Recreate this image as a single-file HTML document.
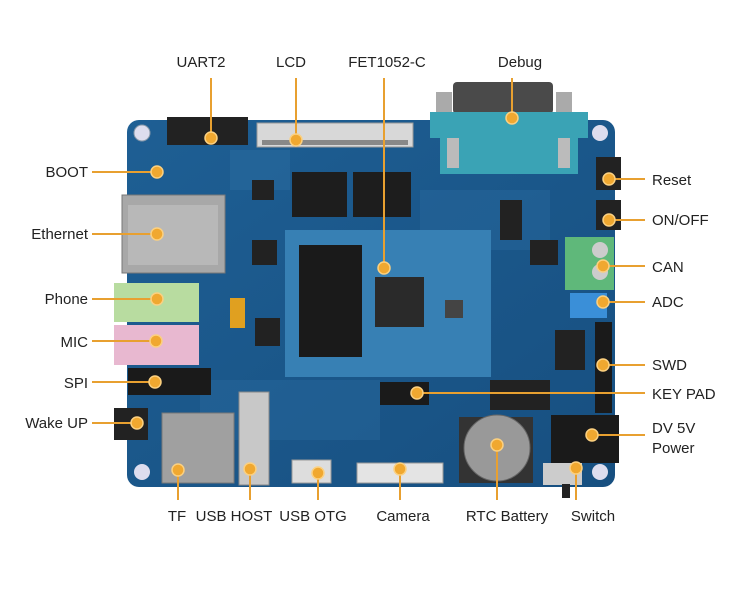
<!DOCTYPE html>
<html><head><style>
html,body{margin:0;padding:0;background:#fff;}
svg{display:block;}
text{font-family:"Liberation Sans",sans-serif;font-size:15px;fill:#222;}
</style></head><body>
<svg width="750" height="598" viewBox="0 0 750 598" xmlns="http://www.w3.org/2000/svg">
<defs>
<linearGradient id="bd" x1="0" y1="0" x2="1" y2="1"><stop offset="0" stop-color="#1e5f94"/><stop offset="1" stop-color="#174f80"/></linearGradient>
</defs>
<!-- board -->
<rect x="127" y="120" width="488" height="367" rx="12" fill="url(#bd)"/>
<circle cx="142" cy="133" r="8" fill="#dde" stroke="#89a" /><circle cx="600" cy="133" r="8" fill="#dde"/>
<circle cx="142" cy="472" r="8" fill="#dde"/><circle cx="600" cy="472" r="8" fill="#dde"/>
<!-- traces hint -->
<rect x="230" y="150" width="60" height="40" fill="#2a6ca0" opacity=".5"/>
<rect x="420" y="190" width="130" height="60" fill="#2a6ca0" opacity=".4"/>
<rect x="200" y="380" width="180" height="60" fill="#2a6ca0" opacity=".4"/>
<!-- UART header -->
<rect x="167" y="117" width="81" height="28" fill="#222"/>
<!-- LCD connector -->
<rect x="257" y="123" width="156" height="24" fill="#d8d8d8" stroke="#999"/>
<rect x="262" y="140" width="146" height="5" fill="#888"/>
<!-- DB9 -->
<rect x="453" y="82" width="100" height="32" rx="4" fill="#4a4a4a"/>
<rect x="436" y="92" width="16" height="22" fill="#aaa"/><rect x="556" y="92" width="16" height="22" fill="#aaa"/>
<rect x="430" y="112" width="158" height="26" fill="#3aa3b5"/>
<rect x="440" y="112" width="138" height="62" fill="#3aa3b5"/>
<rect x="447" y="138" width="12" height="30" fill="#bbb"/><rect x="558" y="138" width="12" height="30" fill="#bbb"/>
<!-- RAM chips -->
<rect x="292" y="172" width="55" height="45" fill="#1d1d1d"/><rect x="353" y="172" width="58" height="45" fill="#1d1d1d"/>
<rect x="252" y="180" width="22" height="20" fill="#222"/>
<rect x="500" y="200" width="22" height="40" fill="#222"/>
<rect x="530" y="240" width="28" height="25" fill="#222"/>
<!-- ethernet -->
<rect x="122" y="195" width="103" height="78" fill="#a8a8a8" stroke="#777"/>
<rect x="128" y="205" width="90" height="60" fill="#b8b8b8"/>
<!-- phone & mic -->
<rect x="114" y="283" width="85" height="39" fill="#b8dca0"/>
<rect x="114" y="325" width="85" height="40" fill="#e8b8d0"/>
<rect x="230" y="298" width="15" height="30" fill="#e0a020"/>
<rect x="252" y="240" width="25" height="25" fill="#222"/>
<rect x="255" y="318" width="25" height="28" fill="#222"/>
<!-- SPI -->
<rect x="128" y="368" width="83" height="27" fill="#1a1a1a"/>
<!-- module -->
<rect x="285" y="230" width="206" height="147" fill="#3780b4"/>
<rect x="299" y="245" width="63" height="112" fill="#1a1a1a"/>
<rect x="375" y="277" width="49" height="50" fill="#2a2a2a"/>
<rect x="445" y="300" width="18" height="18" fill="#444"/>
<!-- right side -->
<rect x="565" y="237" width="49" height="53" fill="#5fb87a"/>
<circle cx="600" cy="250" r="8" fill="#ccc"/><circle cx="600" cy="272" r="8" fill="#ccc"/>
<rect x="570" y="293" width="37" height="25" fill="#3a8fd8"/>
<rect x="595" y="322" width="17" height="91" fill="#1a1a1a"/>
<rect x="596" y="157" width="25" height="33" fill="#222"/><rect x="596" y="200" width="25" height="30" fill="#222"/>
<rect x="551" y="415" width="68" height="48" fill="#1a1a1a"/>
<rect x="555" y="330" width="30" height="40" fill="#222"/>
<rect x="490" y="380" width="60" height="30" fill="#222"/>
<!-- keypad -->
<rect x="380" y="382" width="49" height="23" fill="#1a1a1a"/>
<!-- bottom -->
<rect x="114" y="408" width="34" height="32" fill="#222"/>
<rect x="162" y="413" width="72" height="70" fill="#a0a0a0" stroke="#777"/>
<rect x="239" y="392" width="30" height="93" fill="#c8c8c8" stroke="#888"/>
<rect x="292" y="460" width="39" height="23" fill="#ddd" stroke="#999"/>
<rect x="357" y="463" width="86" height="20" fill="#e4e4e4" stroke="#999"/>
<rect x="459" y="417" width="74" height="66" fill="#333"/>
<circle cx="497" cy="448" r="33" fill="#999" stroke="#666"/>
<rect x="543" y="463" width="39" height="22" fill="#ccc"/>
<rect x="562" y="484" width="8" height="14" fill="#222"/>
<!-- connector lines -->
<g stroke="#e8a030" stroke-width="2" fill="none">
<line x1="211" y1="78" x2="211" y2="138"/><line x1="296" y1="78" x2="296" y2="140"/>
<line x1="384" y1="78" x2="384" y2="268"/><line x1="512" y1="78" x2="512" y2="118"/>
<line x1="92" y1="172" x2="157" y2="172"/><line x1="92" y1="234" x2="157" y2="234"/>
<line x1="92" y1="299" x2="157" y2="299"/><line x1="92" y1="341" x2="156" y2="341"/>
<line x1="92" y1="382" x2="155" y2="382"/><line x1="92" y1="423" x2="137" y2="423"/>
<line x1="609" y1="179" x2="645" y2="179"/><line x1="609" y1="220" x2="645" y2="220"/>
<line x1="603" y1="266" x2="645" y2="266"/><line x1="603" y1="302" x2="645" y2="302"/>
<line x1="603" y1="365" x2="645" y2="365"/><line x1="417" y1="393" x2="645" y2="393"/>
<line x1="592" y1="435" x2="645" y2="435"/>
<line x1="178" y1="470" x2="178" y2="500"/><line x1="250" y1="469" x2="250" y2="500"/>
<line x1="318" y1="473" x2="318" y2="500"/><line x1="400" y1="469" x2="400" y2="500"/>
<line x1="497" y1="445" x2="497" y2="500"/><line x1="576" y1="468" x2="576" y2="500"/>
</g>
<g fill="#f0a830" stroke="#fbd080" stroke-width="1.5">
<circle cx="211" cy="138" r="6"/><circle cx="296" cy="140" r="6"/><circle cx="384" cy="268" r="6"/><circle cx="512" cy="118" r="6"/>
<circle cx="157" cy="172" r="6"/><circle cx="157" cy="234" r="6"/><circle cx="157" cy="299" r="6"/><circle cx="156" cy="341" r="6"/>
<circle cx="155" cy="382" r="6"/><circle cx="137" cy="423" r="6"/>
<circle cx="609" cy="179" r="6"/><circle cx="609" cy="220" r="6"/><circle cx="603" cy="266" r="6"/><circle cx="603" cy="302" r="6"/>
<circle cx="603" cy="365" r="6"/><circle cx="417" cy="393" r="6"/><circle cx="592" cy="435" r="6"/>
<circle cx="178" cy="470" r="6"/><circle cx="250" cy="469" r="6"/><circle cx="318" cy="473" r="6"/><circle cx="400" cy="469" r="6"/>
<circle cx="497" cy="445" r="6"/><circle cx="576" cy="468" r="6"/>
</g>
<!-- labels -->
<text x="201" y="67" text-anchor="middle">UART2</text>
<text x="291" y="67" text-anchor="middle">LCD</text>
<text x="387" y="67" text-anchor="middle">FET1052-C</text>
<text x="520" y="67" text-anchor="middle">Debug</text>
<text x="88" y="177" text-anchor="end">BOOT</text>
<text x="88" y="239" text-anchor="end">Ethernet</text>
<text x="88" y="304" text-anchor="end">Phone</text>
<text x="88" y="347" text-anchor="end">MIC</text>
<text x="88" y="388" text-anchor="end">SPI</text>
<text x="88" y="428" text-anchor="end">Wake UP</text>
<text x="652" y="185">Reset</text>
<text x="652" y="225">ON/OFF</text>
<text x="652" y="272">CAN</text>
<text x="652" y="307">ADC</text>
<text x="652" y="370">SWD</text>
<text x="652" y="399">KEY PAD</text>
<text x="652" y="433">DV 5V</text>
<text x="652" y="453">Power</text>
<text x="177" y="521" text-anchor="middle">TF</text>
<text x="234" y="521" text-anchor="middle">USB HOST</text>
<text x="313" y="521" text-anchor="middle">USB OTG</text>
<text x="403" y="521" text-anchor="middle">Camera</text>
<text x="507" y="521" text-anchor="middle">RTC Battery</text>
<text x="593" y="521" text-anchor="middle">Switch</text>
</svg>
</body></html>
